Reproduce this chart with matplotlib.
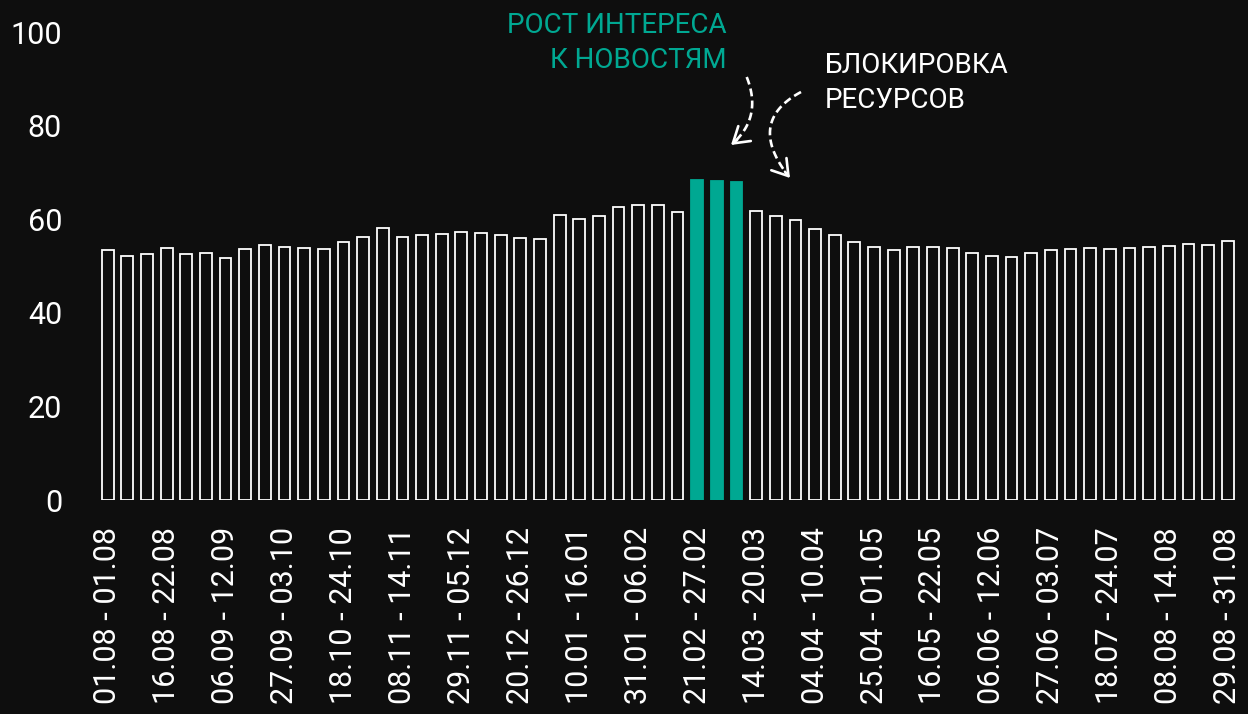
import matplotlib
matplotlib.use("Agg")
import matplotlib.pyplot as plt
import numpy as np

# ---------------- data ----------------
values = [53.4, 52.1, 52.6, 53.9, 52.5, 52.8, 51.8, 53.6, 54.5, 54.1,
          53.8, 53.6, 55.2, 56.2, 58.2, 56.3, 56.6, 56.8, 57.2, 57.1,
          56.6, 56.0, 55.8, 60.9, 60.0, 60.7, 62.6, 63.0, 63.0, 61.6,
          68.3, 68.2, 67.9, 61.7, 60.7, 59.8, 57.8, 56.6, 55.2, 54.1,
          53.4, 54.1, 54.1, 53.8, 52.8, 52.2, 52.0, 52.8, 53.4, 53.6,
          53.9, 53.6, 53.9, 54.1, 54.3, 54.6, 54.4, 55.3]
highlight = [30, 31, 32]
tick_labels = ["01.08 - 01.08", "16.08 - 22.08", "06.09 - 12.09", "27.09 - 03.10",
               "18.10 - 24.10", "08.11 - 14.11", "29.11 - 05.12", "20.12 - 26.12",
               "10.01 - 16.01", "31.01 - 06.02", "21.02 - 27.02", "14.03 - 20.03",
               "04.04 - 10.04", "25.04 - 01.05", "16.05 - 22.05", "06.06 - 12.06",
               "27.06 - 03.07", "18.07 - 24.07", "08.08 - 14.08", "29.08 - 31.08"]
tick_step = 3
y_ticks = [0, 20, 40, 60, 80, 100]
note_teal = ["РОСТ ИНТЕРЕСА", "К НОВОСТЯМ"]
note_white = ["БЛОКИРОВКА", "РЕСУРСОВ"]

# ---------------- style ----------------
BG = "#0e0e0e"
TEAL = "#00a892"
W, H = 1248, 714
plt.rcParams['font.family'] = ['Roboto', 'DejaVu Sans']

fig = plt.figure(figsize=(W / 100, H / 100), dpi=100, facecolor=BG)
ax = fig.add_axes([95.9 / W, 214 / H, 1143.6 / W, 468 / H])
ax.set_facecolor(BG)

x = np.arange(len(values))
face = [TEAL if i in highlight else BG for i in x]
edge = [TEAL if i in highlight else "white" for i in x]
ax.bar(x, values, width=0.6, color=face, edgecolor=edge, linewidth=1.3, zorder=3)

ax.set_xlim(-0.6, len(values) - 0.4)
ax.set_ylim(0, 100)
for s in ax.spines.values():
    s.set_visible(False)

ax.set_yticks(y_ticks)
ax.set_yticklabels([str(v) for v in y_ticks])
ax.tick_params(axis='y', length=0, pad=24.4, labelsize=22, labelcolor='white')

ax.set_xticks(x[::tick_step])
ax.set_xticklabels(tick_labels, rotation=90)
ax.tick_params(axis='x', length=0, pad=19.4, labelsize=22, labelcolor='white')

# ---------------- annotations ----------------
def fp(px, py):
    return (px, H - py)

fig.text(727 / W, (H - 33.3) / H, note_teal[0], color=TEAL, fontsize=20,
         ha='right', va='baseline')
fig.text(727 / W, (H - 68.3) / H, note_teal[1], color=TEAL, fontsize=20,
         ha='right', va='baseline')
fig.text(825 / W, (H - 73.3) / H, note_white[0], color='white', fontsize=20,
         ha='left', va='baseline')
fig.text(825 / W, (H - 108.3) / H, note_white[1], color='white', fontsize=20,
         ha='left', va='baseline')


def dashed_arrow(p0, p1, ctrl):
    t = np.linspace(0, 1, 60)
    P0, P1, C = np.array(fp(*p0)), np.array(fp(*p1)), np.array(fp(*ctrl))
    pts = ((1 - t)[:, None] ** 2) * P0 + (2 * (1 - t) * t)[:, None] * C + (t[:, None] ** 2) * P1
    line = plt.Line2D(pts[:-4, 0] / W, pts[:-4, 1] / H, transform=fig.transFigure,
                      color='white', lw=1.9, dashes=(3.0, 1.6), solid_capstyle='butt')
    fig.add_artist(line)
    tang = P1 - C
    tang = tang / np.linalg.norm(tang)
    back = P1 - tang * 8
    ax.annotate('', xy=tuple(P1), xytext=tuple(back), xycoords='figure pixels',
                textcoords='figure pixels',
                arrowprops=dict(arrowstyle='->,head_length=0.55,head_width=0.35',
                                color='white', lw=1.9, mutation_scale=20,
                                shrinkA=0, shrinkB=0))


dashed_arrow((746.7, 77), (731, 145), (763, 118))
dashed_arrow((801, 92), (790, 178), (745, 122))

fig.savefig("out.png", dpi=100, facecolor=BG)
